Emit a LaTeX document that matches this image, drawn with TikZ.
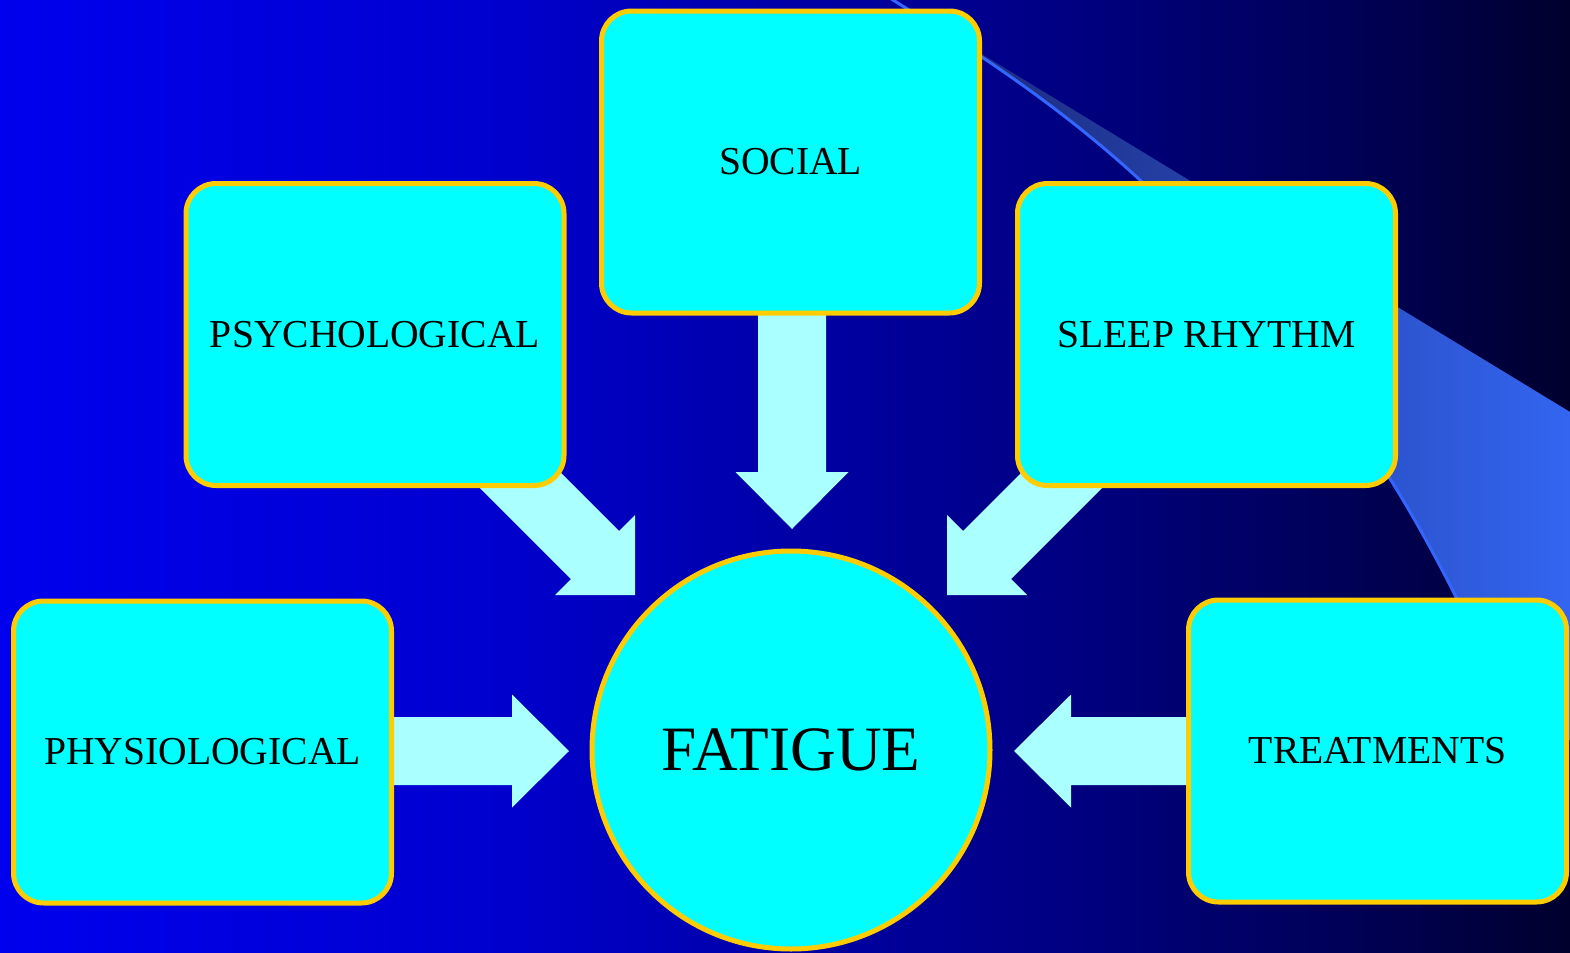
\documentclass[tikz,border=0pt]{standalone}
\usepackage{fontspec}
\setmainfont{Liberation Serif}
\definecolor{bgA}{RGB}{0,0,238}
\definecolor{bgB}{RGB}{0,0,208}
\definecolor{bgC}{RGB}{0,0,125}
\definecolor{bgD}{RGB}{0,0,78}
\definecolor{bgE}{RGB}{0,0,45}
\definecolor{swooshL}{RGB}{25,35,110}
\definecolor{swooshR}{RGB}{51,102,242}
\definecolor{swooshline}{RGB}{51,102,255}
\definecolor{boxfill}{RGB}{0,255,255}
\definecolor{boxborder}{RGB}{255,204,0}
\definecolor{arrowfill}{RGB}{170,255,255}
\begin{document}
\begin{tikzpicture}[x=0.5pt,y=-0.5pt,
  factor/.style={draw=boxborder, fill=boxfill, line width=2.5pt, rounded corners=15pt,
    minimum width=189pt, minimum height=151pt, inner sep=0pt,
    font=\fontsize{19.8}{24}\selectfont, text=black},
  core/.style={circle, draw=boxborder, fill=boxfill, line width=2.5pt,
    minimum size=199pt, inner sep=0pt, font=\fontsize{31.6}{38}\selectfont, text=black},
  blockarrow/.style={fill=arrowfill}]
\useasboundingbox (0,0) rectangle (1570,953);
\clip (0,0) rectangle (1570,953);
% background gradient
\shade[left color=bgA, right color=bgB] (-1,0) rectangle (481,953);
\shade[left color=bgB, right color=bgC] (480,0) rectangle (1101,953);
\shade[left color=bgC, right color=bgD] (1100,0) rectangle (1401,953);
\shade[left color=bgD, right color=bgE] (1400,0) rectangle (1571,953);
% decorative swoosh
\shade[left color=swooshL, right color=swooshR]
  (893,0) .. controls (975,51) and (1058,104.6) .. (1140,180)
  .. controls (1300,327) and (1420,490) .. (1520,740)
  -- (1575,740) -- (1575,415) -- cycle;
\draw[swooshline, line width=1.5pt]
  (880,-8) -- (893,0) .. controls (975,51) and (1058,104.6) .. (1140,180)
  .. controls (1300,327) and (1420,490) .. (1520,740);
% block arrows
\fill[blockarrow] (569,751) -- (512,694.5) -- (512,717) -- (389,717) -- (389,785) -- (512,785) -- (512,807.5) -- cycle;
\fill[blockarrow] (1014,751) -- (1071,694.5) -- (1071,717) -- (1194,717) -- (1194,785) -- (1071,785) -- (1071,807.5) -- cycle;
\fill[blockarrow] (792,529) -- (735.5,472) -- (758,472) -- (758,310) -- (826,310) -- (826,472) -- (848.5,472) -- cycle;
\fill[blockarrow] (635,595) -- (555,595) -- (571,579) -- (451,459) -- (499,411) -- (619,531) -- (635,515) -- cycle;
\fill[blockarrow] (947,595) -- (1027,595) -- (1011,579) -- (1131,459) -- (1083,411) -- (963,531) -- (947,515) -- cycle;
% nodes
\node[factor] (physio) at (202.5,752) {PHYSIOLOGICAL};
\node[factor] (psycho) at (375,334.5) {PSYCHOLOGICAL};
\node[factor] (social) at (790.5,162) {SOCIAL};
\node[factor] (sleep) at (1206.5,334.5) {SLEEP RHYTHM};
\node[factor] (treat) at (1377.5,751) {TREATMENTS};
\node[core] (fatigue) at (791,750) {FATIGUE};
\end{tikzpicture}
\end{document}
